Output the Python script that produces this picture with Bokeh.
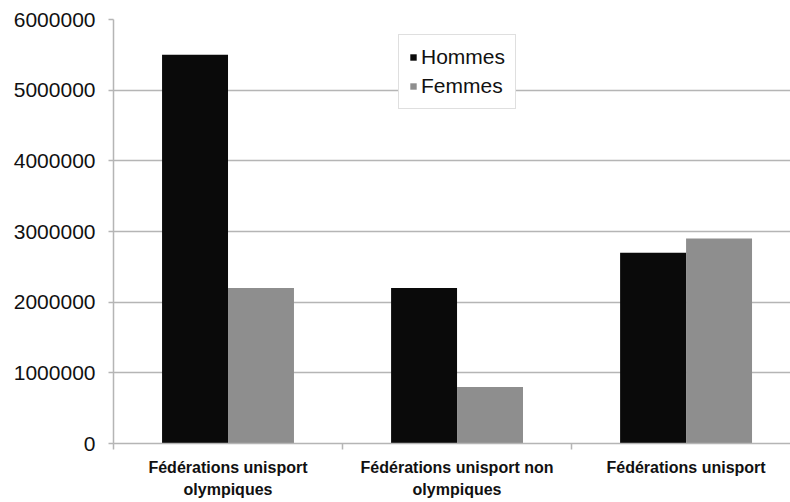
from bokeh.plotting import figure
from bokeh.models import (Range1d, FixedTicker, BasicTickFormatter, ColumnDataSource,
                          Legend, LegendItem)
from bokeh.transform import dodge
from bokeh.embed import file_html
from bokeh.resources import INLINE

categories = ["Fédérations unisport\nolympiques",
              "Fédérations unisport non\nolympiques",
              "Fédérations unisport"]
hommes = [5500000, 2200000, 2700000]
femmes = [2200000, 800000, 2900000]
series = ["Hommes", "Femmes"]
colors = ["#0a0a0a", "#8e8e8e"]
y_ticks = [0, 1000000, 2000000, 3000000, 4000000, 5000000, 6000000]

x_pos = [i + 0.5 for i in range(len(categories))]
source = ColumnDataSource(dict(x=x_pos, hommes=hommes, femmes=femmes))

FONT = "Liberation Sans"
GRID = "#b5b5b5"

p = figure(width=790, height=502, output_backend="svg", toolbar_location=None,
           x_range=Range1d(0, 2.956), y_range=Range1d(0, 6000000),
           min_border_left=113, min_border_right=0, min_border_top=19,
           min_border_bottom=59)
p.outline_line_color = None
p.background_fill_color = "white"
p.border_fill_color = "white"

bw = 0.288
r1 = p.vbar(x=dodge("x", -bw / 2, range=p.x_range), top="hommes", width=bw,
            source=source, fill_color=colors[0], line_color=None)
r2 = p.vbar(x=dodge("x", bw / 2, range=p.x_range), top="femmes", width=bw,
            source=source, fill_color=colors[1], line_color=None)

# x axis: labels at category centres, ticks at category boundaries
p.xaxis.ticker = FixedTicker(ticks=x_pos,
                             minor_ticks=[float(i) for i in range(len(categories) + 1)])
p.xaxis.major_label_overrides = {x: c for x, c in zip(x_pos, categories)}
p.xaxis.major_tick_line_color = None
p.xaxis.minor_tick_line_color = GRID
p.xaxis.minor_tick_line_width = 1.5
p.xaxis.minor_tick_out = 6
p.xaxis.minor_tick_in = 0
p.xaxis.axis_line_color = GRID
p.xaxis.axis_line_width = 1.5
p.xaxis.major_label_text_font = FONT
p.xaxis.major_label_text_font_style = "bold"
p.xaxis.major_label_text_font_size = "16px"
p.xaxis.major_label_text_line_height = 1.3
p.xaxis.major_label_text_color = "#111111"
p.xaxis.major_label_standoff = 9
p.xgrid.grid_line_color = None

# y axis
p.yaxis.ticker = FixedTicker(ticks=y_ticks)
p.yaxis.formatter = BasicTickFormatter(use_scientific=False)
p.yaxis.axis_line_color = GRID
p.yaxis.axis_line_width = 1.5
p.yaxis.major_tick_line_color = GRID
p.yaxis.major_tick_line_width = 1.5
p.yaxis.major_tick_out = 5
p.yaxis.major_tick_in = 0
p.yaxis.minor_tick_line_color = None
p.yaxis.major_label_text_font = FONT
p.yaxis.major_label_text_font_size = "21px"
p.yaxis.major_label_text_color = "#111111"
p.yaxis.major_label_standoff = 13
p.ygrid.grid_line_color = GRID
p.ygrid.grid_line_width = 1.5

legend = Legend(items=[LegendItem(label=series[0], renderers=[r1]),
                       LegendItem(label=series[1], renderers=[r2])],
                location=(285, 334))
legend.glyph_width = 8
legend.glyph_height = 8
legend.label_standoff = 4
legend.label_text_font = FONT
legend.label_text_font_size = "21px"
legend.label_text_color = "#111111"
legend.padding = 10
legend.spacing = 5
legend.margin = 0
legend.border_line_color = "#c0c0c0"
legend.border_line_width = 1.5
legend.background_fill_color = "white"
legend.background_fill_alpha = 1
p.add_layout(legend, "center")

open("out.html", "w").write(file_html(p, INLINE))
